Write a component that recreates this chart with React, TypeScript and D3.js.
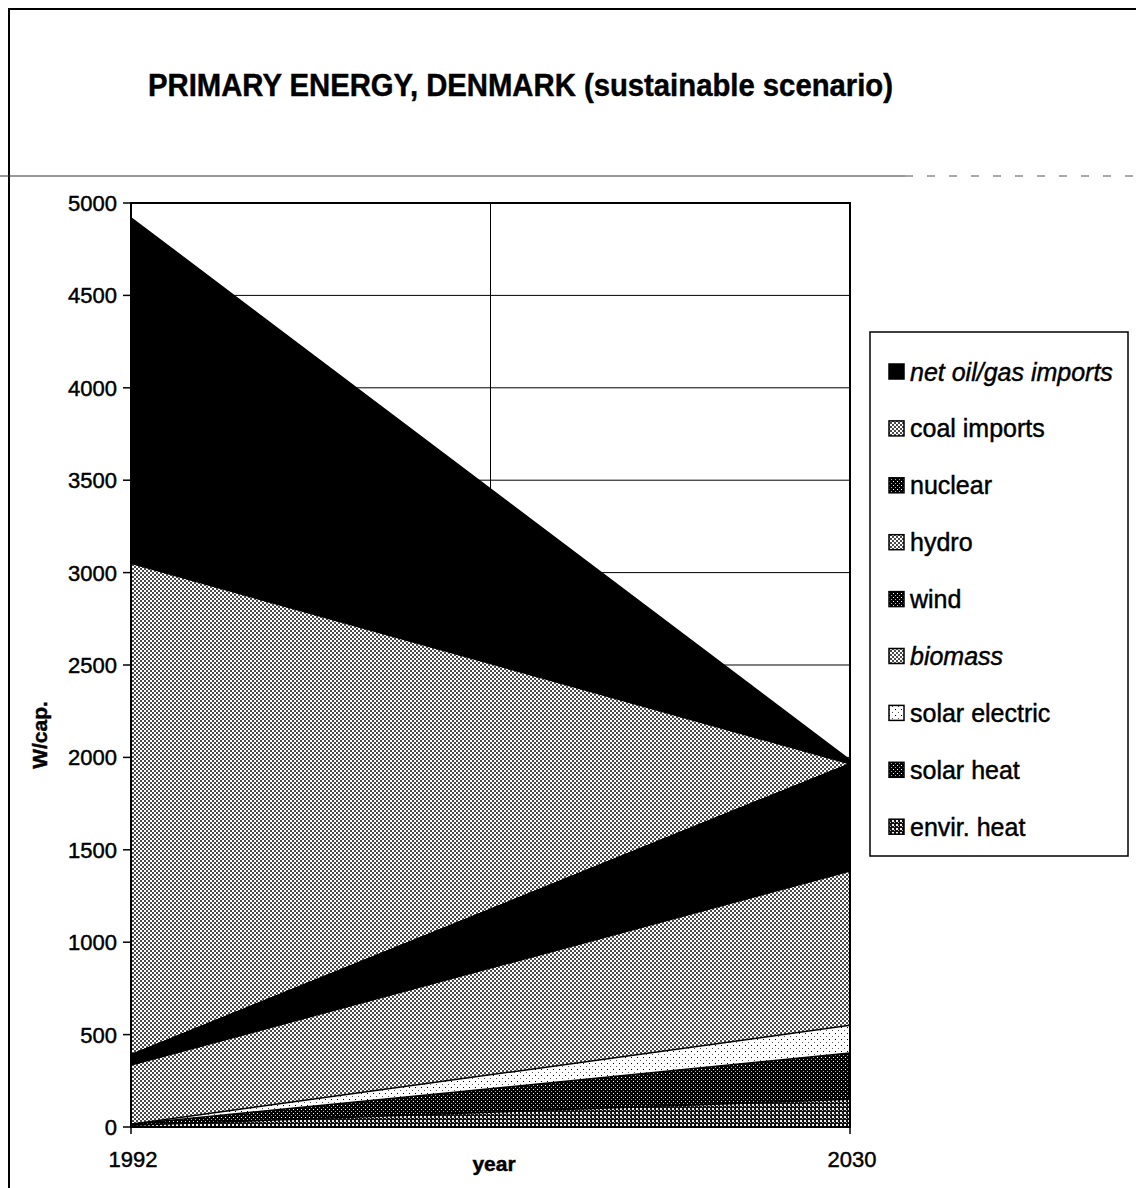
import React from "react";
import * as d3 from "d3";

const years = [1992, 2030];
const seriesKeys = [
  "envir. heat",
  "solar heat",
  "solar electric",
  "biomass",
  "wind",
  "hydro",
  "nuclear",
  "coal imports",
  "net oil/gas imports",
];
const envirHeat = [10, 150];
const solarHeat = [5, 250];
const solarElectric = [0, 150];
const biomass = [320, 835];
const wind = [55, 580];
const hydro = [0, 0];
const nuclear = [0, 0];
const coalImports = [2660, 0];
const netOilGas = [1870, 20];
const yTicks = [0, 500, 1000, 1500, 2000, 2500, 3000, 3500, 4000, 4500, 5000];
const legendOrder = [
  "net oil/gas imports",
  "coal imports",
  "nuclear",
  "hydro",
  "wind",
  "biomass",
  "solar electric",
  "solar heat",
  "envir. heat",
];

const seriesValues: Record<string, number[]> = {
  "envir. heat": envirHeat,
  "solar heat": solarHeat,
  "solar electric": solarElectric,
  biomass: biomass,
  wind: wind,
  hydro: hydro,
  nuclear: nuclear,
  "coal imports": coalImports,
  "net oil/gas imports": netOilGas,
};

const fills: Record<string, string> = {
  "envir. heat": "url(#pEnv)",
  "solar heat": "url(#pDark)",
  "solar electric": "url(#pSparse)",
  biomass: "url(#pChk)",
  wind: "#000",
  hydro: "url(#pChk)",
  nuclear: "url(#pDark)",
  "coal imports": "url(#pChk)",
  "net oil/gas imports": "#000",
};
const legendFills: Record<string, string> = {
  ...fills,
  wind: "url(#pDark)",
};
const italicKeys = ["net oil/gas imports", "biomass"];

const FONT = "'Liberation Sans', Arial, Helvetica, sans-serif";

export default function App() {
  const W = 1136;
  const H = 1188;
  const left = 131;
  const right = 850;
  const top = 203;
  const bottom = 1127;

  const x = d3.scaleLinear().domain([years[0], years[1]]).range([left, right]);
  const y = d3.scaleLinear().domain([0, 5000]).range([bottom, top]);

  const table = years.map((yr, i) => {
    const row: any = { year: yr };
    seriesKeys.forEach((k) => (row[k] = seriesValues[k][i]));
    return row;
  });
  const stacked = d3.stack<any>().keys(seriesKeys)(table);
  const area = d3
    .area<any>()
    .x((d) => x(d.data.year))
    .y0((d) => y(d[0]))
    .y1((d) => y(d[1]));
  const topLine = d3
    .line<any>()
    .x((d) => x(d.data.year))
    .y((d) => y(d[1]));

  const legendX = 870;
  const legendY = 332;
  const legendW = 258;
  const legendH = 524;
  const rowStart = 372;
  const rowGap = 56.9;
  const thick = { stroke: "#000", strokeWidth: 0.45 };

  return (
    <svg
      width={W}
      height={H}
      style={{ position: "absolute", left: 0, top: 0, background: "#fff" }}
      fontFamily={FONT}
    >
      <defs>
        <pattern id="pChk" width="4" height="4" patternUnits="userSpaceOnUse">
          <rect width="4" height="4" fill="#fff" />
          <rect x="0" y="0" width="2" height="2" fill="#4a4a4a" />
          <rect x="2" y="2" width="2" height="2" fill="#4a4a4a" />
        </pattern>
        <pattern id="pEnv" width="4" height="4" patternUnits="userSpaceOnUse">
          <rect width="4" height="4" fill="#111" />
          <rect x="0" y="0" width="2" height="2" fill="#eee" />
          <rect x="2" y="2" width="1" height="1" fill="#bbb" />
        </pattern>
        <pattern id="pDark" width="4" height="4" patternUnits="userSpaceOnUse">
          <rect width="4" height="4" fill="#000" />
          <rect x="1" y="1" width="1" height="1" fill="#fff" />
          <rect x="3" y="3" width="1" height="1" fill="#aaa" />
        </pattern>
        <pattern id="pSparse" width="6" height="6" patternUnits="userSpaceOnUse">
          <rect width="6" height="6" fill="#fff" />
          <rect x="1" y="1" width="1" height="1" fill="#000" />
          <rect x="4" y="4" width="1" height="1" fill="#555" />
        </pattern>
      </defs>

      {/* outer frame */}
      <line x1={8} y1={9} x2={W} y2={9} stroke="#000" strokeWidth={2} />
      <line x1={9} y1={8} x2={9} y2={H} stroke="#000" strokeWidth={2} />
      <line x1={0} y1={176} x2={905} y2={176} stroke="#333" strokeWidth={1} />
      <line x1={905} y1={176} x2={W} y2={176} stroke="#555" strokeWidth={1} strokeDasharray="8 14" />

      {/* title */}
      <text
        x={148}
        y={96}
        fontSize={32}
        fontWeight="bold"
        textLength={745}
        lengthAdjust="spacingAndGlyphs"
        fill="#000"
        {...thick}
      >
        PRIMARY ENERGY, DENMARK (sustainable scenario)
      </text>

      {/* gridlines */}
      {yTicks.map((t) => (
        <line key={"g" + t} x1={left} x2={right} y1={y(t)} y2={y(t)} stroke="#000" strokeWidth={1} />
      ))}
      <line x1={(left + right) / 2} x2={(left + right) / 2} y1={top} y2={bottom} stroke="#000" strokeWidth={1} />

      {/* areas */}
      {stacked.map((s) => (
        <path key={s.key} d={area(s) || ""} fill={fills[s.key]} />
      ))}
      {stacked.map((s) => (
        <path key={"l" + s.key} d={topLine(s) || ""} fill="none" stroke="#000" strokeWidth={1.5} />
      ))}

      {/* plot border */}
      <rect x={left} y={top} width={right - left} height={bottom - top} fill="none" stroke="#000" strokeWidth={2} />

      {/* y axis ticks */}
      {yTicks.map((t) => (
        <g key={"t" + t}>
          <line x1={left - 8} x2={left} y1={y(t)} y2={y(t)} stroke="#000" strokeWidth={1.5} />
          <text x={117} y={y(t) + 8} fontSize={22} textAnchor="end" fill="#000" {...thick}>
            {t}
          </text>
        </g>
      ))}

      {/* x axis ticks */}
      {years.map((yr) => (
        <g key={"x" + yr}>
          <line x1={x(yr)} x2={x(yr)} y1={bottom} y2={bottom + 7} stroke="#000" strokeWidth={1.5} />
          <text x={x(yr) + 2} y={1167} fontSize={22} textAnchor="middle" fill="#000" {...thick}>
            {yr}
          </text>
        </g>
      ))}

      {/* axis titles */}
      <text x={494} y={1171} fontSize={21} fontWeight="bold" textAnchor="middle" fill="#000" {...thick}>
        year
      </text>
      <text
        transform={`translate(47,735) rotate(-90)`}
        fontSize={21}
        fontWeight="bold"
        textAnchor="middle"
        fill="#000"
        {...thick}
      >
        W/cap.
      </text>

      {/* legend */}
      <rect x={legendX} y={legendY} width={legendW} height={legendH} fill="#fff" stroke="#000" strokeWidth={1.5} />
      {legendOrder.map((k, i) => {
        const cy = rowStart + i * rowGap;
        return (
          <g key={"lg" + k}>
            <rect x={889} y={cy - 8} width={15} height={15} fill={legendFills[k]} stroke="#000" strokeWidth={1.5} />
            <text
              x={910}
              y={cy + 8.5}
              fontSize={25}
              fontStyle={italicKeys.includes(k) ? "italic" : "normal"}
              fill="#000"
              {...thick}
            >
              {k}
            </text>
          </g>
        );
      })}
    </svg>
  );
}
